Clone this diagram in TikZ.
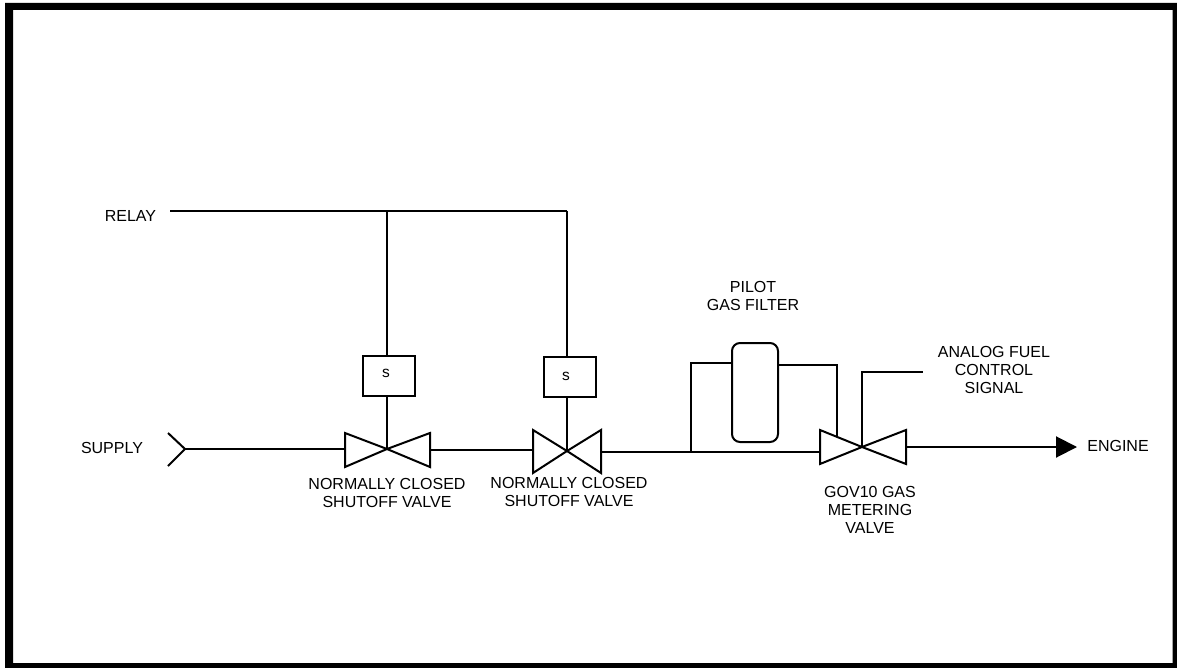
\documentclass[tikz,border=0pt]{standalone}
\usepackage{fontspec}
\setmainfont{Liberation Sans}
\usetikzlibrary{arrows.meta}

\begin{document}
\begin{tikzpicture}[x=1pt,y=-1pt]

\tikzset{pipe/.style = {line width=2pt}}
\tikzset{valve/.style = {line width=2pt, line join=miter, fill=white}}
\tikzset{solenoid/.style = {shape=rectangle,draw,line width=2pt,minimum width=52pt,minimum height=40pt,inner sep=0pt}}
\tikzset{filter/.style = {shape=rectangle,draw,line width=2pt,rounded corners=8pt,minimum width=46pt,minimum height=99pt}}
\tikzset{tag/.style = {inner sep=0pt,align=center,font=\fontsize{16}{18}\selectfont}}
\tikzset{coil/.style = {inner sep=0pt,font=\fontsize{15.5}{16}\selectfont}}

\useasboundingbox (0,0) rectangle (1177,668);
%frame
\fill[black,even odd rule] (5,3) rectangle (1177,668) (13,10) rectangle (1172.5,663);

%junctions
\coordinate (relayl) at (170,211);
\coordinate (relay1) at (387,211);
\coordinate (relay2) at (567,211);
\coordinate (inlet) at (185,449);
\coordinate (v1) at (387,449);
\coordinate (v1l) at (345,449);
\coordinate (v1r) at (430,450);
\coordinate (v2) at (567,451);
\coordinate (v2l) at (533,450);
\coordinate (v2r) at (601,452);
\coordinate (v3) at (862,447);
\coordinate (v3l) at (820,452);
\coordinate (v3r) at (906,447);
\coordinate (tee) at (691,452);
\coordinate (teeup) at (691,363);
\coordinate (fr) at (837,365);
\coordinate (frdown) at (837,437);
\coordinate (sigup) at (862,372);
\coordinate (sigend) at (923,372);
\coordinate (tip) at (1077,447);

%solenoids and filter
\node[solenoid] (s1) at (389,376) {};
\node[solenoid] (s2) at (570,377) {};
\node[coil] (s1t) at (386,373.5) {s};
\node[coil] (s2t) at (566,376.5) {s};
\node[filter] (f) at (755,392.5) {};

%pipes
\draw [pipe] (relayl) -- (relay1) -- (relay2);
\draw [pipe] (relay1) -- (relay1 |- s1.north);
\draw [pipe] (relay2) -- (relay2 |- s2.north);
\draw [pipe] (v1 |- s1.south) -- (v1);
\draw [pipe] (v2 |- s2.south) -- (v2);
\draw [pipe] (inlet) -- (v1l);
\draw [pipe] (v1r) -- (v2l);
\draw [pipe] (v2r) -- (tee) -- (v3l);
\draw [pipe] (tee) -- (teeup) -- (teeup -| f.west);
\draw [pipe] (fr -| f.east) -- (fr) -- (frdown);
\draw [pipe] (v3) -- (sigup) -- (sigend);
\draw [pipe,-{Triangle[length=21pt,width=21pt]}] (v3r) -- (tip);
\draw [pipe] (168,433) -- (inlet) -- (168,466);

%valves
\draw [valve] (v1) -- (345,433) -- (345,467) -- (v1) -- (430,433) -- (430,467) -- cycle;
\draw [valve] (v2) -- (533,430) -- (533,473) -- (v2) -- (601,430) -- (601,473) -- cycle;
\draw [valve] (v3) -- (820,430) -- (820,464) -- (v3) -- (906,430) -- (906,464) -- cycle;

%labels
\node[tag] (relay) at (130.5,216) {RELAY};
\node[tag] (supply) at (112,448) {SUPPLY};
\node[tag] (engine) at (1118,446) {ENGINE};
\node[tag] (pilot) at (753,296) {PILOT\\GAS FILTER};
\node[tag] (nc1) at (387,493) {NORMALLY CLOSED\\SHUTOFF VALVE};
\node[tag] (nc2) at (569,492) {NORMALLY CLOSED\\SHUTOFF VALVE};
\node[tag] (gov) at (870,509.5) {GOV10 GAS\\METERING\\VALVE};
\node[tag] (analog) at (994,370) {ANALOG FUEL\\CONTROL\\SIGNAL};

\end{tikzpicture}
\end{document}
